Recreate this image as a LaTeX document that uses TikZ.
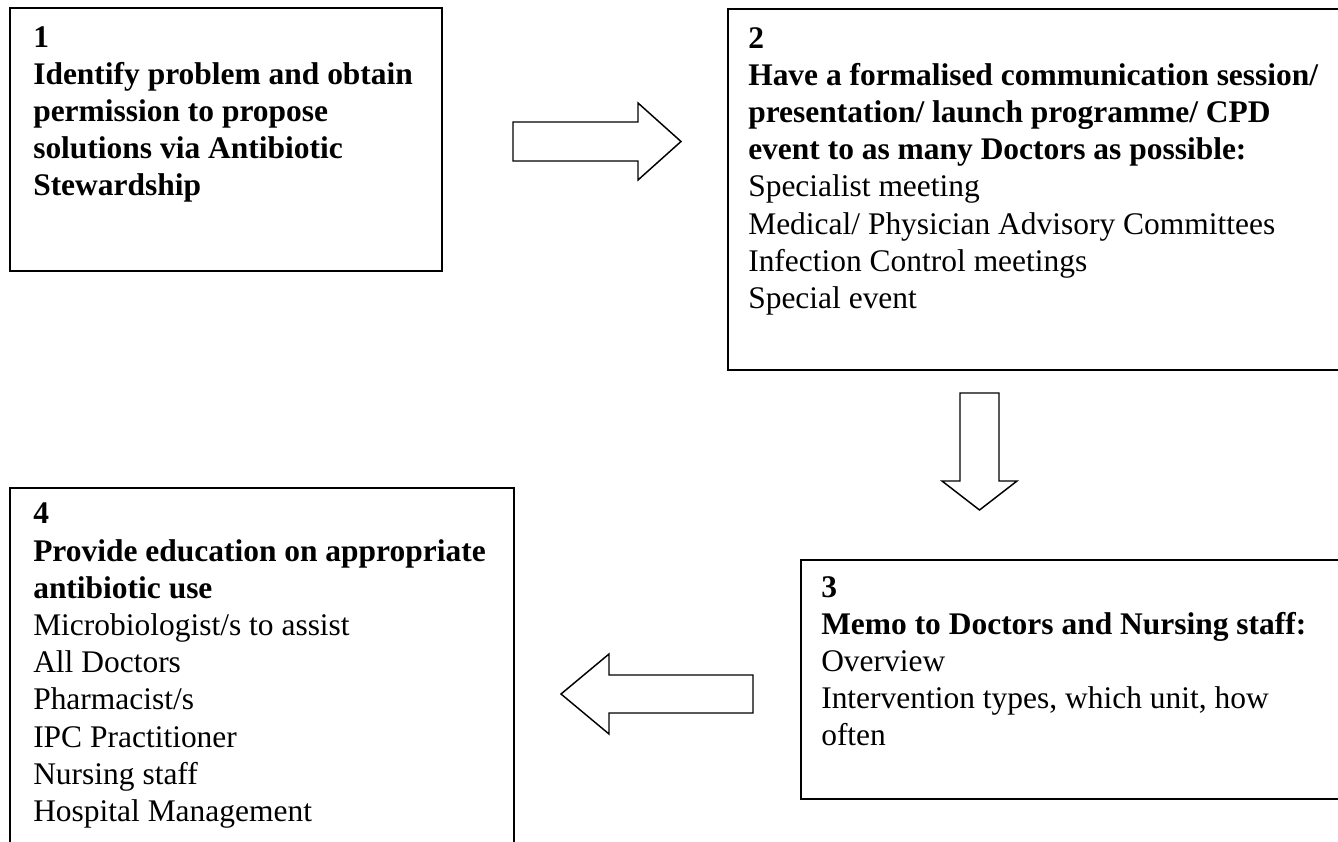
\documentclass[tikz,border=0pt]{standalone}
\usepackage{fontspec}
\setmainfont{Liberation Serif}
\usepackage{xcolor}
\usetikzlibrary{positioning, calc}

\tikzset{
  stepbox/.style={draw, line width=1.5pt, inner sep=0pt, anchor=north west},
  steptext/.style={anchor=north west, inner sep=0pt, align=left,
    font=\fontsize{23.6}{27.9}\selectfont},
  blockarrow/.style={draw, line width=1.1pt, line join=miter, fill=white}
}

\begin{document}
\begin{tikzpicture}[x=0.75pt,y=-0.75pt]
            \clip (0,0) rectangle (1338,842);

            \node[stepbox, minimum width=324pt, minimum height=197.25pt] (box1) at (9,7) {};
            \node[stepbox, minimum width=463.5pt, minimum height=270.75pt] (box2) at (727,8) {};
            \node[stepbox, minimum width=408.75pt, minimum height=179.25pt] (box3) at (800,559) {};
            \node[stepbox, minimum width=378pt, minimum height=277.5pt] (box4) at (9,487) {};

            \node[steptext] (t1) at ([shift={(24,19)}]box1.north west) {\textbf{1}\\
              \textbf{Identify problem and obtain}\\
              \textbf{permission to propose}\\
              \textbf{solutions via Antibiotic}\\
              \textbf{Stewardship}};
            \node[steptext] (t2) at ([shift={(21,19)}]box2.north west) {\textbf{2}\\
              \textbf{Have a formalised communication session/}\\
              \textbf{presentation/ launch programme/ CPD}\\
              \textbf{event to as many Doctors as possible:}\\
              Specialist meeting\\
              Medical/ Physician Advisory Committees\\
              Infection Control meetings\\
              Special event};
            \node[steptext] (t3) at ([shift={(21,17)}]box3.north west) {\textbf{3}\\
              \textbf{Memo to Doctors and Nursing staff:}\\
              Overview\\
              Intervention types, which unit, how\\
              often};
            \node[steptext] (t4) at ([shift={(24,16)}]box4.north west) {\textbf{4}\\
              \textbf{Provide education on appropriate}\\
              \textbf{antibiotic use}\\
              Microbiologist/s to assist\\
              All Doctors\\
              Pharmacist/s\\
              IPC Practitioner\\
              Nursing staff\\
              Hospital Management};

            \draw[blockarrow] (513,122) -- (638,122) -- (638,103) -- (681,141.5)
              -- (638,180) -- (638,161) -- (513,161) -- cycle;
            \draw[blockarrow] (960,393) -- (999,393) -- (999,481) -- (1017,481)
              -- (979.5,510) -- (942,481) -- (960,481) -- cycle;
            \draw[blockarrow] (753,675) -- (609,675) -- (609,654) -- (561,694)
              -- (609,734) -- (609,713) -- (753,713) -- cycle;
        \end{tikzpicture}
\end{document}
